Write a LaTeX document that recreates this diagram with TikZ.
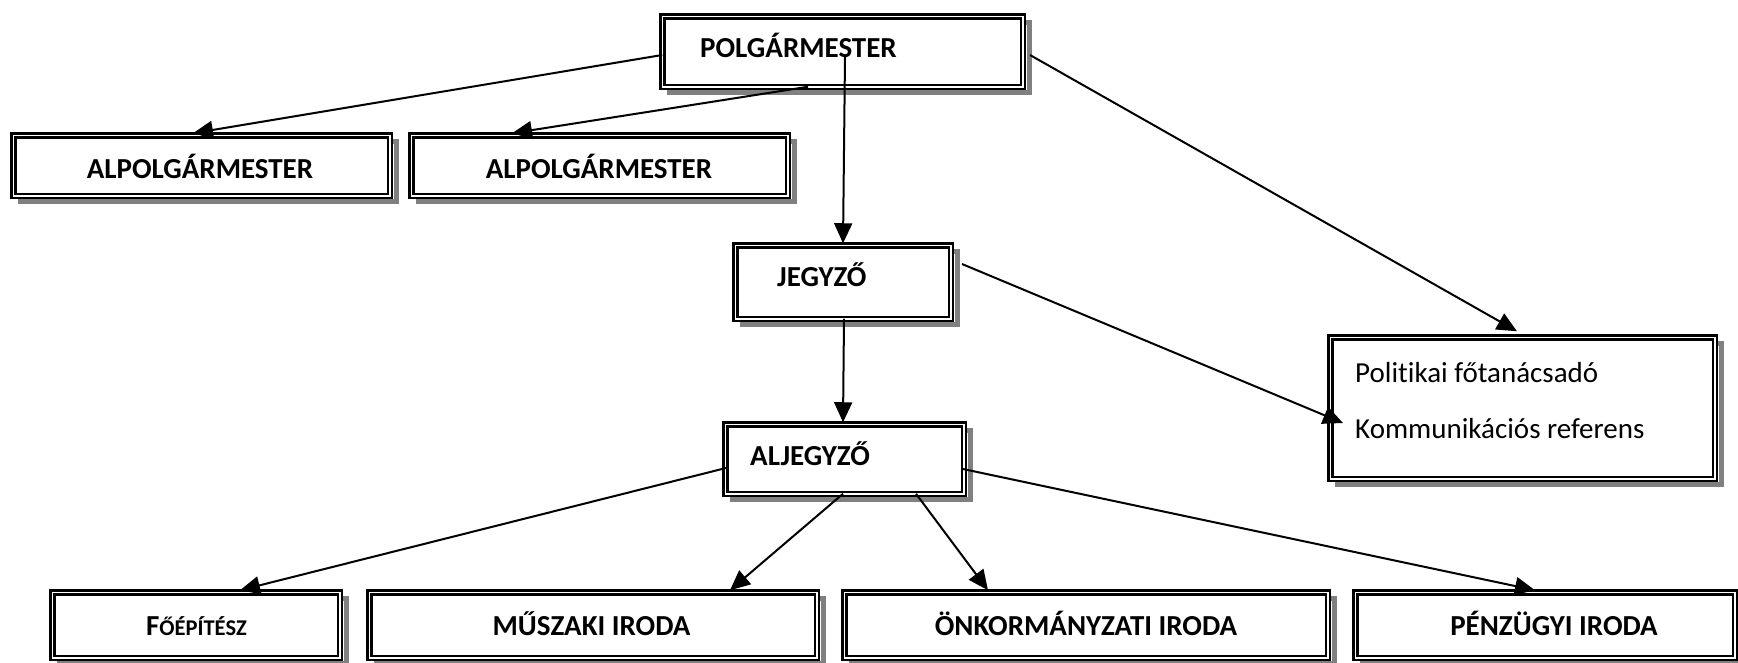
\documentclass[tikz,border=0pt]{standalone}
\usepackage{fontspec}
\setmainfont{Carlito}[Ligatures={NoCommon}, RawFeature={-liga;-clig;-dlig}]
\usetikzlibrary{arrows.meta,shadows,calc}
\begin{document}
\begin{tikzpicture}[x=1pt,y=-1pt,
  box/.style={draw=black, fill=white, line width=2.5pt, double=white, double distance=1.5pt,
    inner sep=0pt, outer sep=0pt,
    general shadow={draw=gray, line width=5pt, shadow xshift=7pt, shadow yshift=-6pt}},
  lbl/.style={inner sep=0pt, font=\fontsize{29}{35}\selectfont\bfseries},
  txt/.style={inner sep=0pt, font=\fontsize{29}{35}\selectfont},
  conn/.style={line width=2pt, -{Triangle[length=20pt,width=18pt]}}]
\useasboundingbox (0,0) rectangle (1738,662);
% boxes
\node[box, minimum width=360.5pt, minimum height=70.5pt] (polg) at (842.5,51.5) {};
\node[box, minimum width=376.5pt, minimum height=60.5pt] (alpolg1) at (201.5,165.5) {};
\node[box, minimum width=376.5pt, minimum height=60.5pt] (alpolg2) at (599.5,165.5) {};
\node[box, minimum width=215.5pt, minimum height=73.5pt] (jegyzo) at (843,282) {};
\node[box, minimum width=238.5pt, minimum height=69.5pt] (aljegyzo) at (844.5,459) {};
\node[box, minimum width=384.5pt, minimum height=141.5pt] (polit) at (1522.5,408) {};
\node[box, minimum width=287.5pt, minimum height=65.5pt] (foep) at (196,625) {};
\node[box, minimum width=447.5pt, minimum height=65.5pt] (musz) at (593,625) {};
\node[box, minimum width=483.5pt, minimum height=65.5pt] (onk) at (1086,625) {};
\node[box, minimum width=379.5pt, minimum height=65.5pt] (penz) at (1545,625) {};
% texts
\node[lbl, anchor=base west] (tpolg) at (700,57) {POLGÁRMESTER};
\node[lbl, anchor=base] (talp1) at (200,178) {ALPOLGÁRMESTER};
\node[lbl, anchor=base] (talp2) at (599,178) {ALPOLGÁRMESTER};
\node[lbl, anchor=base west] (tjegy) at (777,286) {JEGYZŐ};
\node[lbl, anchor=base west] (taljegy) at (750,465) {ALJEGYZŐ};
\node[txt, anchor=base west] (tpol1) at (1355,382) {Politikai főtanácsadó};
\node[txt, anchor=base west] (tpol2) at (1355,438) {Kommunikációs referens};
\node[lbl, anchor=base] (tfoep) at (196.5,635) {F{\fontsize{22.5}{27}\selectfont ŐÉPÍTÉSZ}};
\node[lbl, anchor=base] (tmusz) at (591.5,635) {MŰSZAKI IRODA};
\node[lbl, anchor=base] (tonk) at (1086,635) {ÖNKORMÁNYZATI IRODA};
\node[lbl, anchor=base] (tpenz) at (1554,635) {PÉNZÜGYI IRODA};
% connectors
\draw[conn] ($(polg.west)+(0,3.5)$) -- ($(alpolg1.north)+(-8.5,-2)$);
\draw[conn] ($(polg.south)+(-34.5,0)$) -- ($(alpolg2.north)+(-87.5,-2)$);
\draw[conn] ($(polg.center)+(2.5,5.5)$) -- ($(jegyzo.north)+(0,-2)$);
\draw[conn] ($(polg.east)+(7.25,3.5)$) -- ($(polit.north)+(-5.5,-6)$);
\draw[conn] ($(jegyzo.east)+(11.25,-18)$) -- ($(polit.west)+(12.75,15)$);
\draw[conn] ($(jegyzo.south)+(1,0)$) -- ($(aljegyzo.north)+(-1.5,-2)$);
\draw[conn] ($(aljegyzo.west)+(0.75,9)$) -- ($(foep.north)+(44,-2)$);
\draw[conn] ($(aljegyzo.south)+(-1.5,0)$) -- ($(musz.north)+(137,-2)$);
\draw[conn] ($(aljegyzo.south)+(71.5,0)$) -- ($(onk.north)+(-98,-2)$);
\draw[conn] ($(aljegyzo.east)+(-0.75,10)$) -- ($(penz.north)+(-10,-2)$);
\end{tikzpicture}
\end{document}
